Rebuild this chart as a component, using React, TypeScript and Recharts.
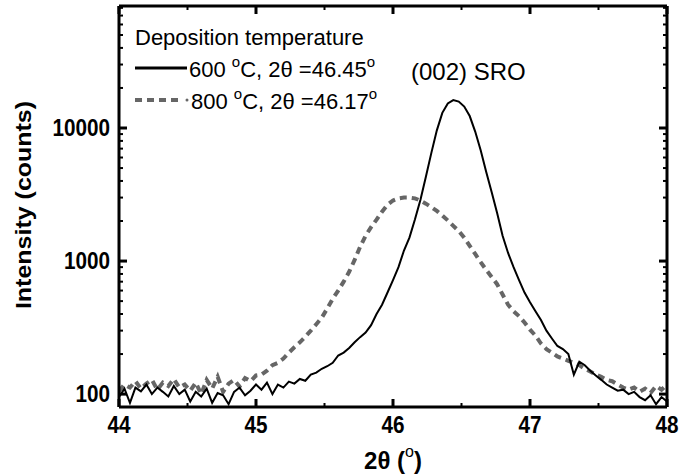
import { LineChart, Line, XAxis, YAxis, ReferenceDot, Customized } from "recharts"

// 2θ positions (degrees)
const twoTheta = [
  44.0, 44.04, 44.08, 44.12, 44.16, 44.2, 44.24, 44.28, 44.32, 44.36,
  44.4, 44.44, 44.48, 44.52, 44.56, 44.6, 44.64, 44.68, 44.72, 44.76,
  44.8, 44.84, 44.88, 44.92, 44.96, 45.0, 45.04, 45.08, 45.12, 45.16,
  45.2, 45.24, 45.28, 45.32, 45.36, 45.4, 45.44, 45.48, 45.52, 45.56,
  45.6, 45.64, 45.68, 45.72, 45.76, 45.8, 45.84, 45.88, 45.92, 45.96,
  46.0, 46.04, 46.08, 46.12, 46.16, 46.2, 46.24, 46.28, 46.32, 46.36,
  46.4, 46.44, 46.48, 46.52, 46.56, 46.6, 46.64, 46.68, 46.72, 46.76,
  46.8, 46.84, 46.88, 46.92, 46.96, 47.0, 47.04, 47.08, 47.12, 47.16,
  47.2, 47.24, 47.28, 47.32, 47.36, 47.4, 47.44, 47.48, 47.52, 47.56,
  47.6, 47.64, 47.68, 47.72, 47.76, 47.8, 47.84, 47.88, 47.92, 47.96,
  48.0,
]

// 600 °C film
const counts600 = [
  95, 110, 86, 112, 105, 118, 100, 112, 104, 96,
  115, 100, 108, 88, 104, 96, 110, 86, 102, 98,
  84, 104, 112, 98, 106, 118, 108, 122, 100, 118,
  112, 124, 120, 130, 126, 140, 145, 155, 162, 172,
  195, 205, 222, 245, 268, 290, 330, 400, 470, 580,
  720, 900, 1200, 1500, 2050, 2880, 4300, 6500, 9600, 13000,
  15300, 16200, 15800, 14500, 12300, 9400, 6800, 4700, 3300, 2300,
  1550, 1150, 900, 720, 580, 490, 420, 360, 300, 262,
  230, 218, 200, 140, 175, 165, 150, 138, 128, 118,
  112, 106, 108, 100, 104, 95, 90, 98, 84, 95,
  88,
]

// 800 °C film
const counts800 = [
  105, 118, 112, 125, 110, 120, 128, 108, 122, 115,
  130, 112, 118, 106, 122, 100, 128, 110, 135, 104,
  120, 128, 114, 132, 125, 138, 140, 150, 165, 172,
  185, 205, 225, 245, 270, 300, 335, 375, 440, 520,
  600, 700, 830, 1020, 1280, 1550, 1800, 2050, 2350, 2650,
  2850, 2960, 3000, 3000, 2960, 2850, 2700, 2540, 2380, 2200,
  2020, 1840, 1680, 1500, 1300, 1130, 980, 860, 760, 670,
  560, 470, 420, 385, 345, 305, 275, 240, 218, 205,
  192, 185, 178, 172, 165, 155, 148, 140, 135, 128,
  125, 118, 112, 108, 112, 104, 110, 102, 115, 108,
  118,
]

const xMajor = [44, 45, 46, 47, 48]
const xMinor = [44.5, 45.5, 46.5, 47.5]
const yMajor = [100, 1000, 10000]
const yMinor = [
  200, 300, 400, 500, 600, 700, 800, 900,
  2000, 3000, 4000, 5000, 6000, 7000, 8000, 9000,
  20000, 30000, 40000, 50000, 60000, 70000, 80000,
]

const legendTitle = "Deposition temperature"
const series600 = { temp: "600 ", angle: "46.45" }
const series800 = { temp: "800 ", angle: "46.17" }
const peakLabel = "(002) SRO"

const data = twoTheta.map((x, i) => ({ x, c600: counts600[i], c800: counts800[i] }))
const xTicks = [...xMajor, ...xMinor].sort((a, b) => a - b)
const yTicks = [...yMajor, ...yMinor].sort((a, b) => a - b)

const FONT = "'Liberation Sans', Arial, Helvetica, sans-serif"
const GRAY = "#666666"

function BottomTick({ x, y, payload }: any) {
  const major = xMajor.includes(payload.value)
  return (
    <g>
      <line x1={x} x2={x} y1={y} y2={y - (major ? 8 : 4)} stroke="#000" strokeWidth={major ? 3 : 2} />
      {major && (
        <text
          transform={`translate(${x},${y + 26}) scale(0.9,1)`}
          textAnchor="middle"
          fontWeight="bold"
          fontSize={23}
          fontFamily={FONT}
          fill="#000"
        >
          {payload.value}
        </text>
      )}
    </g>
  )
}

function TopTick({ x, y, payload }: any) {
  const major = xMajor.includes(payload.value)
  return <line x1={x} x2={x} y1={y} y2={y + (major ? 8 : 4)} stroke="#000" strokeWidth={major ? 3 : 2} />
}

function LeftTick({ x, y, payload }: any) {
  const major = yMajor.includes(payload.value)
  return (
    <g>
      <line x1={x} x2={x + (major ? 8 : 4)} y1={y} y2={y} stroke="#000" strokeWidth={major ? 3 : 2} />
      {major && (
        <text
          transform={`translate(${x - 9},${y + 8}) scale(0.9,1)`}
          textAnchor="end"
          fontWeight="bold"
          fontSize={23}
          fontFamily={FONT}
          fill="#000"
        >
          {payload.value}
        </text>
      )}
    </g>
  )
}

function RightTick({ x, y, payload }: any) {
  const major = yMajor.includes(payload.value)
  return <line x1={x} x2={x - (major ? 8 : 4)} y1={y} y2={y} stroke="#000" strokeWidth={major ? 3 : 2} />
}

function Overlay() {
  return (
    <g fontFamily={FONT} fill="#000">
      <text x={135} y={45} fontSize={22}>{legendTitle}</text>

      <line x1={135} x2={187} y1={68} y2={68} stroke="#000" strokeWidth={3} />
      <text x={189} y={77} fontSize={22}>
        {series600.temp}
        <tspan dy={-10} fontSize={15}>o</tspan>
        <tspan dy={10}>C, 2θ =</tspan>
        {series600.angle}
        <tspan dy={-10} fontSize={15}>o</tspan>
      </text>

      <line x1={135} x2={182} y1={100} y2={100} stroke={GRAY} strokeWidth={4} strokeDasharray="7 5" />
      <circle cx={187} cy={100} r={1.5} fill={GRAY} />
      <text x={191} y={109} fontSize={22}>
        {series800.temp}
        <tspan dy={-10} fontSize={15}>o</tspan>
        <tspan dy={10}>C, 2θ =</tspan>
        {series800.angle}
        <tspan dy={-10} fontSize={15}>o</tspan>
      </text>

      <text
        transform="translate(31,205) scale(0.9,1) rotate(-90)"
        textAnchor="middle"
        fontWeight="bold"
        fontSize={25}
      >
        Intensity (counts)
      </text>

      <text x={393} y={469} textAnchor="middle" fontWeight="bold" fontSize={24}>
        2θ (<tspan dy={-12} fontSize={16} fontWeight="normal">o</tspan>
        <tspan dy={12}>)</tspan>
      </text>
    </g>
  )
}

export default function App() {
  return (
    <div style={{ position: "absolute", left: 0, top: 0, background: "#fff" }}>
      <LineChart width={679} height={476} data={data} margin={{ top: 0, right: 0, bottom: 0, left: 0 }}>
        <XAxis
          xAxisId="bottom"
          dataKey="x"
          type="number"
          domain={[44, 48]}
          ticks={xTicks}
          interval={0}
          allowDataOverflow
          height={69}
          tickLine={false}
          tickSize={0}
          tickMargin={0}
          tick={<BottomTick />}
          axisLine={{ stroke: "#000", strokeWidth: 3 }}
        />
        <XAxis
          xAxisId="top"
          orientation="top"
          dataKey="x"
          type="number"
          domain={[44, 48]}
          ticks={xTicks}
          interval={0}
          allowDataOverflow
          height={6}
          tickLine={false}
          tickSize={0}
          tickMargin={0}
          tick={<TopTick />}
          axisLine={{ stroke: "#000", strokeWidth: 3 }}
        />
        <YAxis
          yAxisId="left"
          type="number"
          scale="log"
          domain={[80, 82600]}
          ticks={yTicks}
          interval={0}
          allowDataOverflow
          width={119}
          tickLine={false}
          tickSize={0}
          tickMargin={0}
          tick={<LeftTick />}
          axisLine={{ stroke: "#000", strokeWidth: 3 }}
        />
        <YAxis
          yAxisId="right"
          orientation="right"
          type="number"
          scale="log"
          domain={[80, 82600]}
          ticks={yTicks}
          interval={0}
          allowDataOverflow
          width={12}
          tickLine={false}
          tickSize={0}
          tickMargin={0}
          tick={<RightTick />}
          axisLine={{ stroke: "#000", strokeWidth: 3 }}
        />
        <Line
          xAxisId="bottom"
          yAxisId="left"
          type="linear"
          dataKey="c800"
          stroke={GRAY}
          strokeWidth={4}
          strokeDasharray="7 5"
          dot={false}
          isAnimationActive={false}
        />
        <Line
          xAxisId="bottom"
          yAxisId="left"
          type="linear"
          dataKey="c600"
          stroke="#000"
          strokeWidth={2}
          dot={false}
          isAnimationActive={false}
        />
        <ReferenceDot
          xAxisId="bottom"
          yAxisId="left"
          x={46.55}
          y={26400}
          r={0}
          fill="none"
          stroke="none"
          label={{ value: peakLabel, position: "center", fill: "#000", fontSize: 24, fontFamily: FONT }}
        />
        <Customized component={Overlay} />
      </LineChart>
    </div>
  )
}
